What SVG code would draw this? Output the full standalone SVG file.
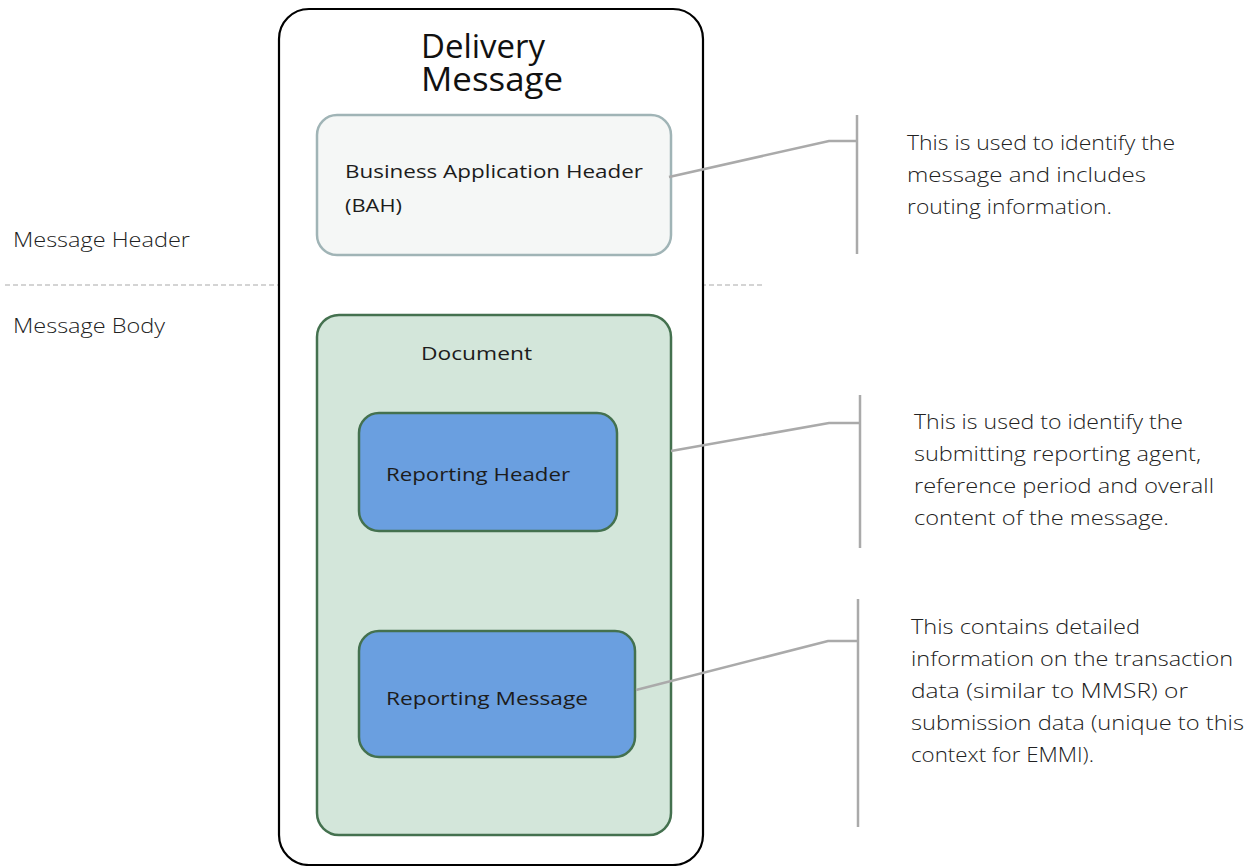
<svg xmlns="http://www.w3.org/2000/svg" width="1258" height="866" viewBox="0 0 1258 866">
  <style>
    text { font-family: "Open Sans", "Liberation Sans", sans-serif; fill: #1c1c1c; }
    .title { font-size: 33px; fill: #111; }
    .label { font-size: 19px; }
    .note { font-size: 19.5px; font-weight: 300; fill: #222; }
    .side { font-size: 19.5px; font-weight: 300; fill: #222; }
    .conn { fill: none; stroke: #aaaaaa; stroke-width: 2.5; }
    .inner { fill: #6a9fe0; stroke: #44714f; stroke-width: 2.5; }
  </style>

  <!-- section labels and divider -->
  <g id="sections">
    <line x1="5" y1="285" x2="763" y2="285" stroke="#aaaaaa" stroke-width="1.2" stroke-dasharray="5 3"/>
    <text class="side" x="13" y="247" textLength="177" lengthAdjust="spacingAndGlyphs">Message Header</text>
    <text class="side" x="13" y="333" textLength="152" lengthAdjust="spacingAndGlyphs">Message Body</text>
  </g>

  <!-- outer container -->
  <g id="delivery-message">
    <rect x="279" y="9" width="424" height="856" rx="30" fill="#ffffff" stroke="#000000" stroke-width="2.2"/>
    <text class="title" x="421" y="58" textLength="124" lengthAdjust="spacingAndGlyphs">Delivery</text>
    <text class="title" x="421" y="91" textLength="142" lengthAdjust="spacingAndGlyphs">Message</text>
  </g>

  <g id="bah">
    <rect x="317" y="115" width="354" height="140" rx="20" fill="#f5f7f6" stroke="#a0b4b6" stroke-width="2.5"/>
    <text class="label" x="345" y="178" font-weight="500" textLength="298" lengthAdjust="spacingAndGlyphs">Business Application Header</text>
    <text class="label" x="345" y="212" font-weight="500" textLength="57" lengthAdjust="spacingAndGlyphs">(BAH)</text>
  </g>

  <g id="document">
    <rect x="317" y="315" width="354" height="520" rx="22" fill="#d3e6da" stroke="#44714f" stroke-width="2.5"/>
    <text class="label" x="421" y="360" font-weight="500" textLength="111" lengthAdjust="spacingAndGlyphs">Document</text>
  </g>

  <g id="reporting-header">
    <rect class="inner" x="359" y="413" width="258" height="118" rx="20"/>
    <text class="label" x="386" y="481" fill="#1a2433" textLength="184" lengthAdjust="spacingAndGlyphs">Reporting Header</text>
  </g>

  <g id="reporting-message">
    <rect class="inner" x="359" y="631" width="276" height="126" rx="20"/>
    <text class="label" x="386" y="705" fill="#1a2433" textLength="202" lengthAdjust="spacingAndGlyphs">Reporting Message</text>
  </g>

  <!-- callout connectors -->
  <g id="connectors">
    <polyline class="conn" points="669,177 829,141 857,141"/>
    <line class="conn" x1="857" y1="115" x2="857" y2="254"/>
    <polyline class="conn" points="671,451 829,423 860,423"/>
    <line class="conn" x1="860" y1="395" x2="860" y2="548"/>
    <polyline class="conn" points="636,690 828,641 858,641"/>
    <line class="conn" x1="858" y1="599" x2="858" y2="827"/>
  </g>

  <g id="note-bah">
    <text class="note" x="907" y="150" textLength="268" lengthAdjust="spacingAndGlyphs">This is used to identify the</text>
    <text class="note" x="907" y="182" textLength="239" lengthAdjust="spacingAndGlyphs">message and includes</text>
    <text class="note" x="907" y="214" textLength="205" lengthAdjust="spacingAndGlyphs">routing information.</text>
  </g>

  <g id="note-header">
    <text class="note" x="914" y="429" textLength="269" lengthAdjust="spacingAndGlyphs">This is used to identify the</text>
    <text class="note" x="914" y="461" textLength="287" lengthAdjust="spacingAndGlyphs">submitting reporting agent,</text>
    <text class="note" x="914" y="493" textLength="300" lengthAdjust="spacingAndGlyphs">reference period and overall</text>
    <text class="note" x="914" y="525" textLength="255" lengthAdjust="spacingAndGlyphs">content of the message.</text>
  </g>

  <g id="note-message">
    <text class="note" x="911" y="634" textLength="229" lengthAdjust="spacingAndGlyphs">This contains detailed</text>
    <text class="note" x="911" y="666" textLength="322" lengthAdjust="spacingAndGlyphs">information on the transaction</text>
    <text class="note" x="911" y="698" textLength="277" lengthAdjust="spacingAndGlyphs">data (similar to MMSR) or</text>
    <text class="note" x="911" y="730" textLength="333" lengthAdjust="spacingAndGlyphs">submission data (unique to this</text>
    <text class="note" x="911" y="762" textLength="183" lengthAdjust="spacingAndGlyphs">context for EMMI).</text>
  </g>
</svg>
